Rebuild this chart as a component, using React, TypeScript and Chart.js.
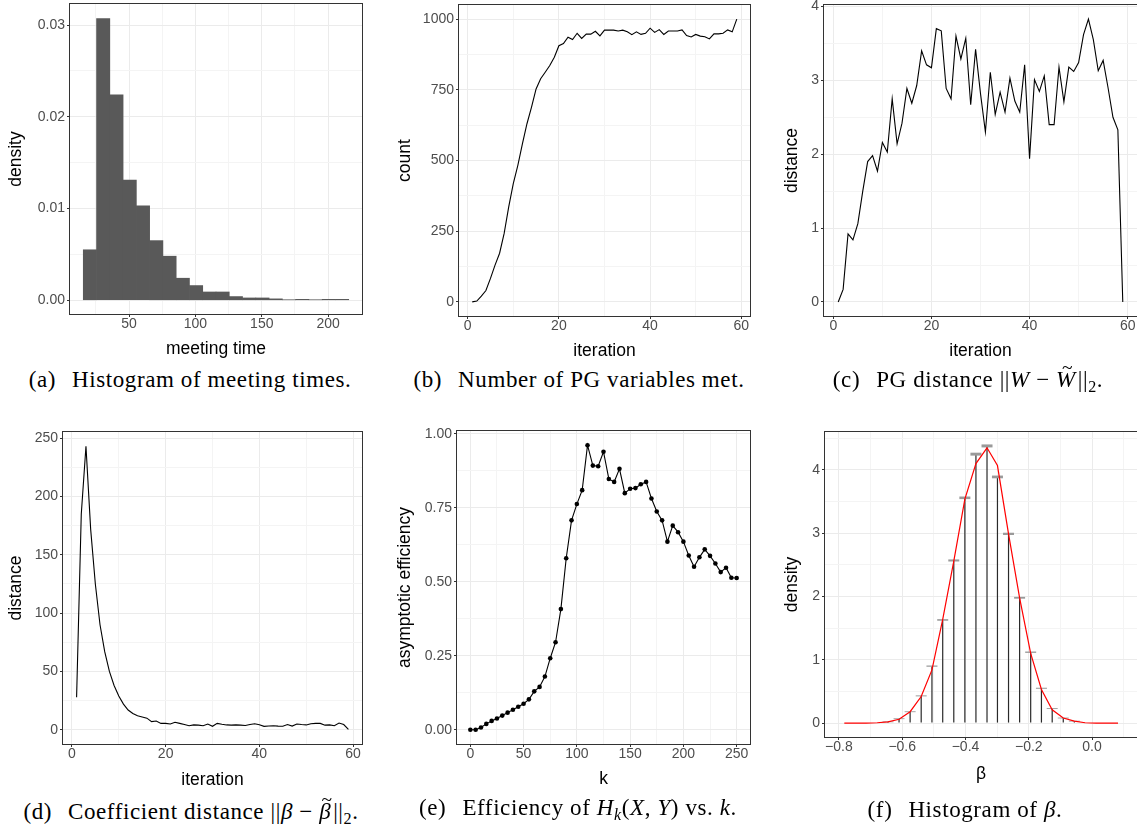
import React, { useEffect, useRef } from 'react';
import { Chart, registerables } from 'chart.js';
Chart.register(...registerables);

const SANS = '"Liberation Sans", Arial, Helvetica, sans-serif';
const SERIF = '"Liberation Serif", "Times New Roman", serif';

// ---------- (a) histogram of meeting times ----------
const meetingBins = [20.5, 30.5, 40.5, 50.5, 60.5, 70.5, 80.5, 90.5, 100.5, 110.5, 120.5, 130.5, 140.5, 150.5, 160.5, 170.5, 180.5, 190.5, 200.5, 210.5];
const meetingDensity = [0.0055, 0.0307, 0.0224, 0.0131, 0.0103, 0.0065, 0.0048, 0.0024, 0.0016, 0.0009, 0.0009, 0.0004, 0.00025, 0.00025, 0.00015, 0.00005, 0.0001, 0.00005, 0.0001, 0.0001];
const aXMajor = [50, 100, 150, 200];
const aXLabels = ['50', '100', '150', '200'];
const aXMinor = [25, 75, 125, 175];
const aYMajor = [0, 0.01, 0.02, 0.03];
const aYLabels = ['0.00', '0.01', '0.02', '0.03'];
const aYMinor = [0.005, 0.015, 0.025];

// ---------- iterations (b, c, d) ----------
const iterations = [1, 2, 3, 4, 5, 6, 7, 8, 9, 10, 11, 12, 13, 14, 15, 16, 17, 18, 19, 20, 21, 22, 23, 24, 25, 26, 27, 28, 29, 30, 31, 32, 33, 34, 35, 36, 37, 38, 39, 40, 41, 42, 43, 44, 45, 46, 47, 48, 49, 50, 51, 52, 53, 54, 55, 56, 57, 58, 59];
const iterXMajor = [0, 20, 40, 60];
const iterXLabels = ['0', '20', '40', '60'];
const iterXMinor = [10, 30, 50];

// (b) number of PG variables met
const metCount = [0, 3, 20, 40, 83, 130, 172, 242, 336, 418, 483, 559, 630, 689, 753, 789, 812, 836, 865, 906, 914, 936, 928, 950, 932, 947, 947, 957, 941, 961, 961, 961, 958, 961, 955, 945, 955, 946, 950, 968, 953, 963, 946, 958, 958, 958, 962, 942, 937, 946, 940, 938, 930, 948, 948, 950, 962, 955, 1000];
const bYMajor = [0, 250, 500, 750, 1000];
const bYLabels = ['0', '250', '500', '750', '1000'];
const bYMinor = [125, 375, 625, 875];

// (c) PG distance
const pgDistance = [0, 0.17, 0.92, 0.84, 1.06, 1.5, 1.9, 1.98, 1.77, 2.16, 2.03, 2.75, 2.14, 2.42, 2.89, 2.69, 2.93, 3.4, 3.21, 3.17, 3.7, 3.67, 2.89, 2.75, 3.6, 3.29, 3.57, 2.67, 3.42, 2.82, 2.3, 3.11, 2.54, 2.84, 2.57, 3.03, 2.72, 2.57, 3.21, 1.94, 3.01, 2.85, 3.06, 2.4, 2.4, 3.18, 2.71, 3.18, 3.12, 3.24, 3.62, 3.83, 3.55, 3.13, 3.27, 2.9, 2.5, 2.33, 0];
const cYMajor = [0, 1, 2, 3, 4];
const cYLabels = ['0', '1', '2', '3', '4'];
const cYMinor = [0.5, 1.5, 2.5, 3.5];

// (d) coefficient distance
const coefDistance = [28, 185, 243, 172, 125, 90, 67, 50, 38, 29, 22, 17, 14, 12, 11, 10, 7, 7.5, 5.5, 5.5, 5, 6.5, 5.5, 4.5, 3.5, 4.2, 4, 3.5, 5, 3, 5.5, 4.8, 4.2, 4, 4.2, 4, 3.7, 4.5, 5.2, 4.3, 3, 3.3, 3.5, 3.2, 3, 4.5, 3.2, 5, 4.5, 4.2, 5.2, 5.5, 5.5, 4, 4.2, 3.5, 5.8, 4.5, 0.3];
const dYMajor = [0, 50, 100, 150, 200, 250];
const dYLabels = ['0', '50', '100', '150', '200', '250'];
const dYMinor = [25, 75, 125, 175, 225];

// (e) asymptotic efficiency vs k
const kValues = [0, 5, 10, 15, 20, 25, 30, 35, 40, 45, 50, 55, 60, 65, 70, 75, 80, 85, 90, 95, 100, 105, 110, 115, 120, 125, 130, 135, 140, 145, 150, 155, 160, 165, 170, 175, 180, 185, 190, 195, 200, 205, 210, 215, 220, 225, 230, 235, 240, 245, 250];
const efficiency = [0, 0, 0.008, 0.02, 0.03, 0.038, 0.048, 0.058, 0.068, 0.078, 0.088, 0.103, 0.13, 0.145, 0.18, 0.242, 0.296, 0.408, 0.58, 0.708, 0.763, 0.81, 0.962, 0.893, 0.891, 0.94, 0.848, 0.838, 0.882, 0.8, 0.815, 0.817, 0.83, 0.838, 0.782, 0.738, 0.708, 0.636, 0.69, 0.668, 0.636, 0.589, 0.551, 0.583, 0.61, 0.588, 0.562, 0.533, 0.548, 0.514, 0.513];
const eXMajor = [0, 50, 100, 150, 200, 250];
const eXLabels = ['0', '50', '100', '150', '200', '250'];
const eXMinor = [25, 75, 125, 175, 225];
const eYMajor = [0, 0.25, 0.5, 0.75, 1];
const eYLabels = ['0.00', '0.25', '0.50', '0.75', '1.00'];
const eYMinor = [0.125, 0.375, 0.625, 0.875];

// (f) histogram of beta
const betaBins = [-0.645, -0.61, -0.575, -0.54, -0.506, -0.472, -0.437, -0.402, -0.367, -0.332, -0.299, -0.264, -0.229, -0.194, -0.16, -0.126, -0.091, -0.056];
const betaDensity = [0.02, 0.07, 0.18, 0.43, 0.9, 1.63, 2.57, 3.56, 4.25, 4.38, 3.89, 2.99, 1.98, 1.12, 0.55, 0.23, 0.08, 0.03];
const betaCurveX = [-0.783, -0.749, -0.714, -0.679, -0.645, -0.61, -0.575, -0.54, -0.506, -0.472, -0.437, -0.402, -0.367, -0.332, -0.299, -0.264, -0.229, -0.194, -0.16, -0.126, -0.091, -0.056, -0.022, 0.013, 0.047, 0.082];
const betaCurveY = [0, 0, 0, 0.005, 0.02, 0.06, 0.18, 0.42, 0.84, 1.64, 2.56, 3.54, 4.1, 4.35, 4.07, 2.99, 1.98, 1.1, 0.53, 0.21, 0.08, 0.03, 0.005, 0, 0, 0];
const fXMajor = [-0.8, -0.6, -0.4, -0.2, 0];
const fXLabels = ['\u22120.8', '\u22120.6', '\u22120.4', '\u22120.2', '0.0'];
const fXMinor = [-0.7, -0.5, -0.3, -0.1, 0.1];
const fYMajor = [0, 1, 2, 3, 4];
const fYLabels = ['0', '1', '2', '3', '4'];
const fYMinor = [0.5, 1.5, 2.5, 3.5, 4.5];

type Box = { cx: number; cy: number; cw: number; ch: number; L: number; T: number; R: number; B: number; yTitleX: number; xTitleY: number };

const boxA: Box = { cx: 0, cy: 0, cw: 379, ch: 362, L: 70, T: 4, R: 362, B: 314, yTitleX: 16, xTitleY: 349 };
const boxB: Box = { cx: 380, cy: 0, cw: 377, ch: 362, L: 459, T: 5, R: 750, B: 316, yTitleX: 405, xTitleY: 351 };
const boxC: Box = { cx: 757, cy: 0, cw: 380, ch: 362, L: 824, T: 5, R: 1137, B: 316, yTitleX: 792, xTitleY: 351 };
const boxD: Box = { cx: 0, cy: 400, cw: 379, ch: 395, L: 63, T: 432, R: 362, B: 744, yTitleX: 16, xTitleY: 780 };
const boxE: Box = { cx: 380, cy: 400, cw: 377, ch: 395, L: 457, T: 431, R: 750, B: 744, yTitleX: 405, xTitleY: 779 };
const boxF: Box = { cx: 757, cy: 400, cw: 380, ch: 395, L: 825, T: 432, R: 1137, B: 737, yTitleX: 792, xTitleY: 774 };

function axis(isX: boolean, box: Box, min: number, max: number, major: number[], labels: string[], minor: number[], title: string) {
  const lh = 21;
  const all = [...major.map((v) => ({ value: v, isMajor: true })), ...minor.map((v) => ({ value: v, isMajor: false }))].sort((a, b) => a.value - b.value);
  return {
    type: 'linear',
    position: isX ? 'bottom' : 'left',
    min,
    max,
    bounds: 'data',
    offset: false,
    afterBuildTicks: (s: any) => {
      s.ticks = all.map((t) => ({ ...t }));
    },
    afterFit: (s: any) => {
      if (isX) {
        s.height = box.cy + box.ch - box.B;
        s.paddingLeft = 0;
        s.paddingRight = 0;
      } else {
        s.width = box.L - box.cx;
        s.paddingTop = 0;
        s.paddingBottom = 0;
      }
    },
    ticks: {
      autoSkip: false,
      maxRotation: 0,
      minRotation: 0,
      padding: isX ? 0 : 2,
      color: '#4D4D4D',
      font: { family: SANS, size: 14, lineHeight: 1 },
      callback: (v: number) => {
        const i = major.indexOf(v);
        return i >= 0 ? labels[i] : '';
      },
    },
    grid: {
      offset: false,
      drawTicks: true,
      tickLength: 3,
      lineWidth: 1,
      tickWidth: 1,
      color: (c: any) => (c.tick && c.tick.isMajor ? '#EBEBEB' : '#F4F4F4'),
      tickColor: (c: any) => (c.tick && c.tick.isMajor ? '#333333' : 'rgba(0,0,0,0)'),
    },
    border: { display: false },
    title: {
      display: true,
      text: title,
      color: '#000000',
      font: { family: SANS, size: 17.5, lineHeight: 1.2 },
      padding: isX ? { top: 0, bottom: box.cy + box.ch - box.xTitleY - lh / 2 } : { top: box.yTitleX - box.cx - lh / 2, bottom: 0 },
    },
  };
}

const framePlugin = {
  id: 'frame',
  afterDatasetsDraw(chart: any) {
    const { ctx, chartArea } = chart;
    const l = Math.round(chartArea.left);
    const t = Math.round(chartArea.top);
    const r = Math.round(chartArea.right);
    const b = Math.round(chartArea.bottom);
    ctx.save();
    ctx.strokeStyle = '#333333';
    ctx.lineWidth = 1;
    ctx.strokeRect(l - 0.5, t - 0.5, r - l + 1, b - t + 1);
    ctx.restore();
  },
};

function baseOptions(box: Box, x: any, y: any) {
  return {
    responsive: false,
    animation: false,
    devicePixelRatio: 1,
    events: [],
    layout: { autoPadding: false, padding: { left: 0, bottom: 0, top: box.T - box.cy, right: box.cx + box.cw - box.R } },
    plugins: { legend: { display: false }, tooltip: { enabled: false } },
    scales: { x, y },
  };
}

function lineConfig(box: Box, xs: number[], ys: number[], xAxis: any, yAxis: any, points: boolean) {
  return {
    type: 'line',
    data: {
      datasets: [
        {
          data: xs.map((x, i) => ({ x, y: ys[i] })),
          borderColor: '#000000',
          borderWidth: 1.1,
          pointRadius: points ? 2.3 : 0,
          pointBackgroundColor: '#000000',
          pointBorderColor: '#000000',
          pointBorderWidth: 0,
          tension: 0,
          fill: false,
        },
      ],
    },
    options: baseOptions(box, xAxis, yAxis),
    plugins: [framePlugin],
  };
}

function configA() {
  return {
    type: 'bar',
    data: {
      datasets: [
        {
          data: meetingBins.map((x, i) => ({ x, y: meetingDensity[i] })),
          backgroundColor: '#595959',
          borderWidth: 0,
          barPercentage: 1,
          categoryPercentage: 1,
        },
      ],
    },
    options: baseOptions(
      boxA,
      axis(true, boxA, 5.5, 225.5, aXMajor, aXLabels, aXMinor, 'meeting time'),
      axis(false, boxA, -0.0015, 0.03229, aYMajor, aYLabels, aYMinor, 'density')
    ),
    plugins: [framePlugin],
  };
}

function configB() {
  return lineConfig(boxB, iterations, metCount,
    axis(true, boxB, -1.9, 61.9, iterXMajor, iterXLabels, iterXMinor, 'iteration'),
    axis(false, boxB, -50, 1050, bYMajor, bYLabels, bYMinor, 'count'), false);
}
function configC() {
  return lineConfig(boxC, iterations, pgDistance,
    axis(true, boxC, -1.9, 61.9, iterXMajor, iterXLabels, iterXMinor, 'iteration'),
    axis(false, boxC, -0.19, 4.02, cYMajor, cYLabels, cYMinor, 'distance'), false);
}
function configD() {
  return lineConfig(boxD, iterations, coefDistance,
    axis(true, boxD, -1.9, 61.9, iterXMajor, iterXLabels, iterXMinor, 'iteration'),
    axis(false, boxD, -12.15, 255.2, dYMajor, dYLabels, dYMinor, 'distance'), false);
}
function configE() {
  return lineConfig(boxE, kValues, efficiency,
    axis(true, boxE, -12.5, 262.5, eXMajor, eXLabels, eXMinor, 'k'),
    axis(false, boxE, -0.048, 1.01, eYMajor, eYLabels, eYMinor, 'asymptotic efficiency'), true);
}
function configF() {
  return {
    type: 'bar',
    data: {
      datasets: [
        {
          type: 'line',
          data: betaCurveX.map((x, i) => ({ x, y: betaCurveY[i] })),
          borderColor: '#FF0000',
          borderWidth: 1.2,
          pointRadius: 0,
          tension: 0,
          fill: false,
        },
        {
          type: 'scatter',
          data: betaBins.map((x, i) => ({ x, y: betaDensity[i] })),
          pointStyle: 'line',
          pointRadius: 5.5,
          pointBorderColor: '#9A9A9A',
          pointBorderWidth: (c: any) => 0.8 + 0.5 * (c.raw ? c.raw.y : 0),
          showLine: false,
        },
        {
          type: 'bar',
          data: betaBins.map((x, i) => ({ x, y: betaDensity[i] })),
          backgroundColor: '#2A2A2A',
          borderWidth: 0,
          barThickness: 1.2,
          inflateAmount: 0,
        },
      ],
    },
    options: baseOptions(
      boxF,
      axis(true, boxF, -0.844, 0.142, fXMajor, fXLabels, fXMinor, '\u03B2'),
      axis(false, boxF, -0.22, 4.6, fYMajor, fYLabels, fYMinor, 'density')
    ),
    plugins: [framePlugin],
  };
}

function Panel({ box, make }: { box: Box; make: () => any }) {
  const ref = useRef<HTMLCanvasElement>(null);
  useEffect(() => {
    const chart = new Chart(ref.current as HTMLCanvasElement, make() as any);
    return () => chart.destroy();
  }, []);
  return (
    <canvas
      ref={ref}
      width={box.cw}
      height={box.ch}
      style={{ position: 'absolute', left: box.cx, top: box.cy, width: box.cw, height: box.ch }}
    />
  );
}

function Caption({ x, y, children }: { x: number; y: number; children: any }) {
  return (
    <div
      style={{
        position: 'absolute',
        left: x - 220,
        top: y - 14,
        width: 440,
        textAlign: 'center',
        fontFamily: SERIF,
        fontSize: 23,
        lineHeight: '28px',
        letterSpacing: '0.6px',
        whiteSpace: 'nowrap',
        color: '#000',
      }}
    >
      {children}
    </div>
  );
}

const tag = { marginRight: 16 };
const sub = { fontSize: '0.7em', verticalAlign: '-0.3em' };

function Tilde({ ch, left }: { ch: string; left: string }) {
  return (
    <span style={{ position: 'relative', display: 'inline-block', marginRight: '0.08em' }}>
      <i>{ch}</i>
      <span style={{ position: 'absolute', left, top: '-0.62em', fontSize: '0.85em' }}>~</span>
    </span>
  );
}

export default function App() {
  return (
    <div style={{ position: 'fixed', left: 0, top: 0, width: 1137, height: 830, background: '#ffffff', overflow: 'hidden' }}>
      <Panel box={boxA} make={configA} />
      <Panel box={boxB} make={configB} />
      <Panel box={boxC} make={configC} />
      <Panel box={boxD} make={configD} />
      <Panel box={boxE} make={configE} />
      <Panel box={boxF} make={configF} />
      <Caption x={190} y={380}>
        <span style={tag}>(a)</span>Histogram of meeting times.
      </Caption>
      <Caption x={579} y={380}>
        <span style={tag}>(b)</span>Number of PG variables met.
      </Caption>
      <Caption x={968} y={380}>
        <span style={tag}>(c)</span>PG distance ||<i>W</i> − <Tilde ch="W" left="0.3em" />||<span style={sub}>2</span>.
      </Caption>
      <Caption x={191} y={812}>
        <span style={tag}>(d)</span>Coefficient distance ||<i>β</i> − <Tilde ch="β" left="0.12em" />||<span style={sub}>2</span>.
      </Caption>
      <Caption x={578} y={808}>
        <span style={tag}>(e)</span>Efficiency of <i>H</i><i style={sub}>k</i>(<i>X</i>, <i>Y</i>) vs. <i>k</i>.
      </Caption>
      <Caption x={965} y={810}>
        <span style={tag}>(f)</span>Histogram of <i>β</i>.
      </Caption>
    </div>
  );
}
